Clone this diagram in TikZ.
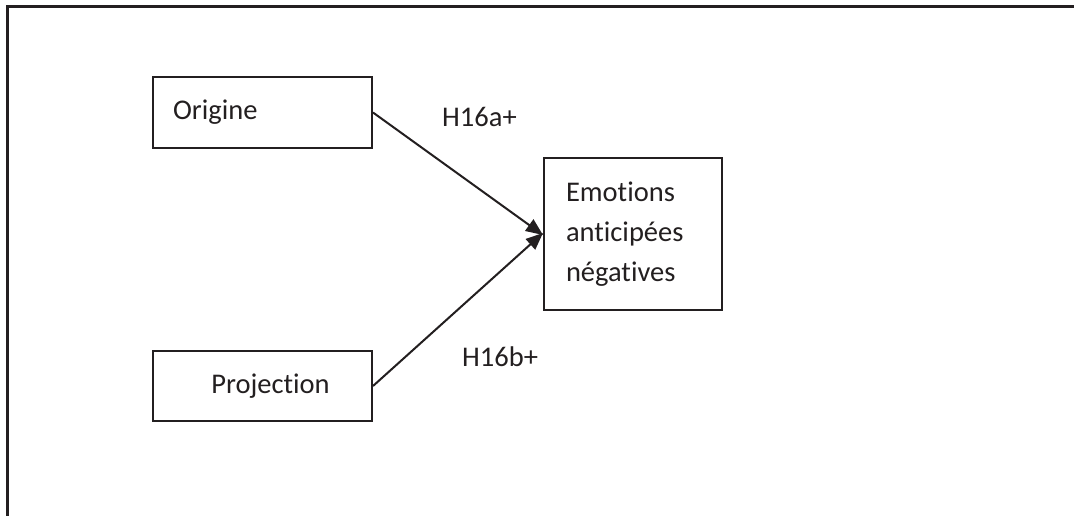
\documentclass[tikz,border=0pt]{standalone}
\usepackage{fontspec}
\setmainfont{Carlito}[Ligatures={NoCommon}]
\usetikzlibrary{arrows.meta}
\definecolor{ink}{HTML}{231F20}
\begin{document}
\begin{tikzpicture}[x=1pt,y=-1pt,
  box/.style={draw=ink,line width=2pt,text=ink,inner sep=0pt,
    font=\fontsize{28.5}{40}\selectfont},
  lbl/.style={text=ink,inner sep=0pt,anchor=base west,font=\fontsize{28.5}{40}\selectfont},
  conn/.style={draw=ink,line width=2pt,-{Triangle[length=17pt,width=14pt]}}]
\useasboundingbox (0,0) rectangle (1074,516);
\draw[ink,line width=3pt] (1074,6.5) -- (7,6.5) -- (7,516);
\node[box,minimum width=219pt,minimum height=71pt,text width=179pt,align=left] (orig) at (262.5,112.5) {Origine};
\node[box,minimum width=219pt,minimum height=70pt,text width=179pt,align=center] (proj) at (262.5,386) {\hspace*{16pt}Projection};
\node[box,minimum width=178pt,minimum height=152pt,text width=134pt,align=left] (emo) at (633,234) {Emotions\\anticip\'ees\\n\'egatives};
\draw[conn] (orig.east) -- ([yshift=-1pt]emo.west);
\draw[conn] (proj.east) -- ([yshift=1pt]emo.west);
\node[lbl] (h1) at (442,127) {H16a+};
\node[lbl] (h2) at (462,366) {H16b+};
\end{tikzpicture}
\end{document}
